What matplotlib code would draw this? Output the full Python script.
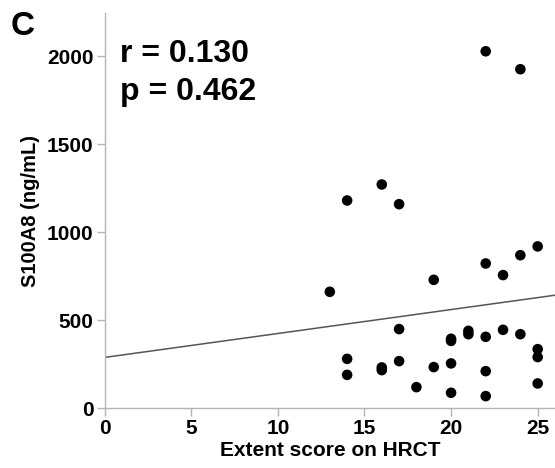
import numpy as np
import matplotlib.pyplot as plt

plt.rcParams['font.family'] = ['Liberation Sans', 'DejaVu Sans']

# extent score on HRCT and serum S100A8 (ng/mL) per patient
extent = [13, 14, 14, 14, 16, 16, 16, 17, 17, 17, 18, 19, 19,
          20, 20, 20, 20, 21, 21, 22, 22, 22, 22, 22,
          23, 23, 24, 24, 24, 25, 25, 25, 25]
s100a8 = [661, 1180, 280, 189, 1271, 231, 216, 1159, 449, 267, 119, 729, 233,
          394, 382, 254, 87, 439, 420, 2028, 822, 405, 210, 68,
          756, 445, 1926, 869, 420, 919, 335, 290, 140]

# fitted regression line
fit_intercept = 288
fit_slope = 13.6
stats_lines = ["r = 0.130", "p = 0.462"]

axis_grey = "#b4b4b4"

fig = plt.figure(figsize=(5.55, 4.68), dpi=100)
ax = fig.add_axes([0.1885, 0.128, 0.8115, 0.844])

ax.scatter(extent, s100a8, s=58, color="black", edgecolors="none", zorder=3)
xs = np.array([0, 26])
ax.plot(xs, fit_intercept + fit_slope * xs, color="#555555", lw=1.1, zorder=2)

ax.set_xlim(0, 26)
ax.set_ylim(0, 2245)
ax.set_xticks([0, 5, 10, 15, 20, 25])
ax.set_yticks([0, 500, 1000, 1500, 2000])

for side in ("top", "right"):
    ax.spines[side].set_visible(False)
for side in ("left", "bottom"):
    ax.spines[side].set_color(axis_grey)
    ax.spines[side].set_linewidth(1.0)

ax.tick_params(axis="both", colors=axis_grey, length=6, width=1.0,
               labelcolor="black", labelsize=15)
ax.tick_params(axis="y", pad=2)
ax.tick_params(axis="x", pad=2)
for lbl in ax.get_xticklabels() + ax.get_yticklabels():
    lbl.set_fontweight("bold")

ax.set_xlabel("Extent score on HRCT", fontsize=15, fontweight="bold", labelpad=2)
ax.set_ylabel("S100A8 (ng/mL)", fontsize=14.5, fontweight="bold", labelpad=5)

# correlation stats, one line each
for y, line in zip([0.876, 0.780], stats_lines):
    ax.text(0.034, y, line, transform=ax.transAxes, fontsize=23,
            fontweight="bold", va="baseline", ha="left")

fig.text(0.02, 0.925, "C", fontsize=24, fontweight="bold", ha="left", va="baseline")

fig.savefig("out.png", dpi=100)
